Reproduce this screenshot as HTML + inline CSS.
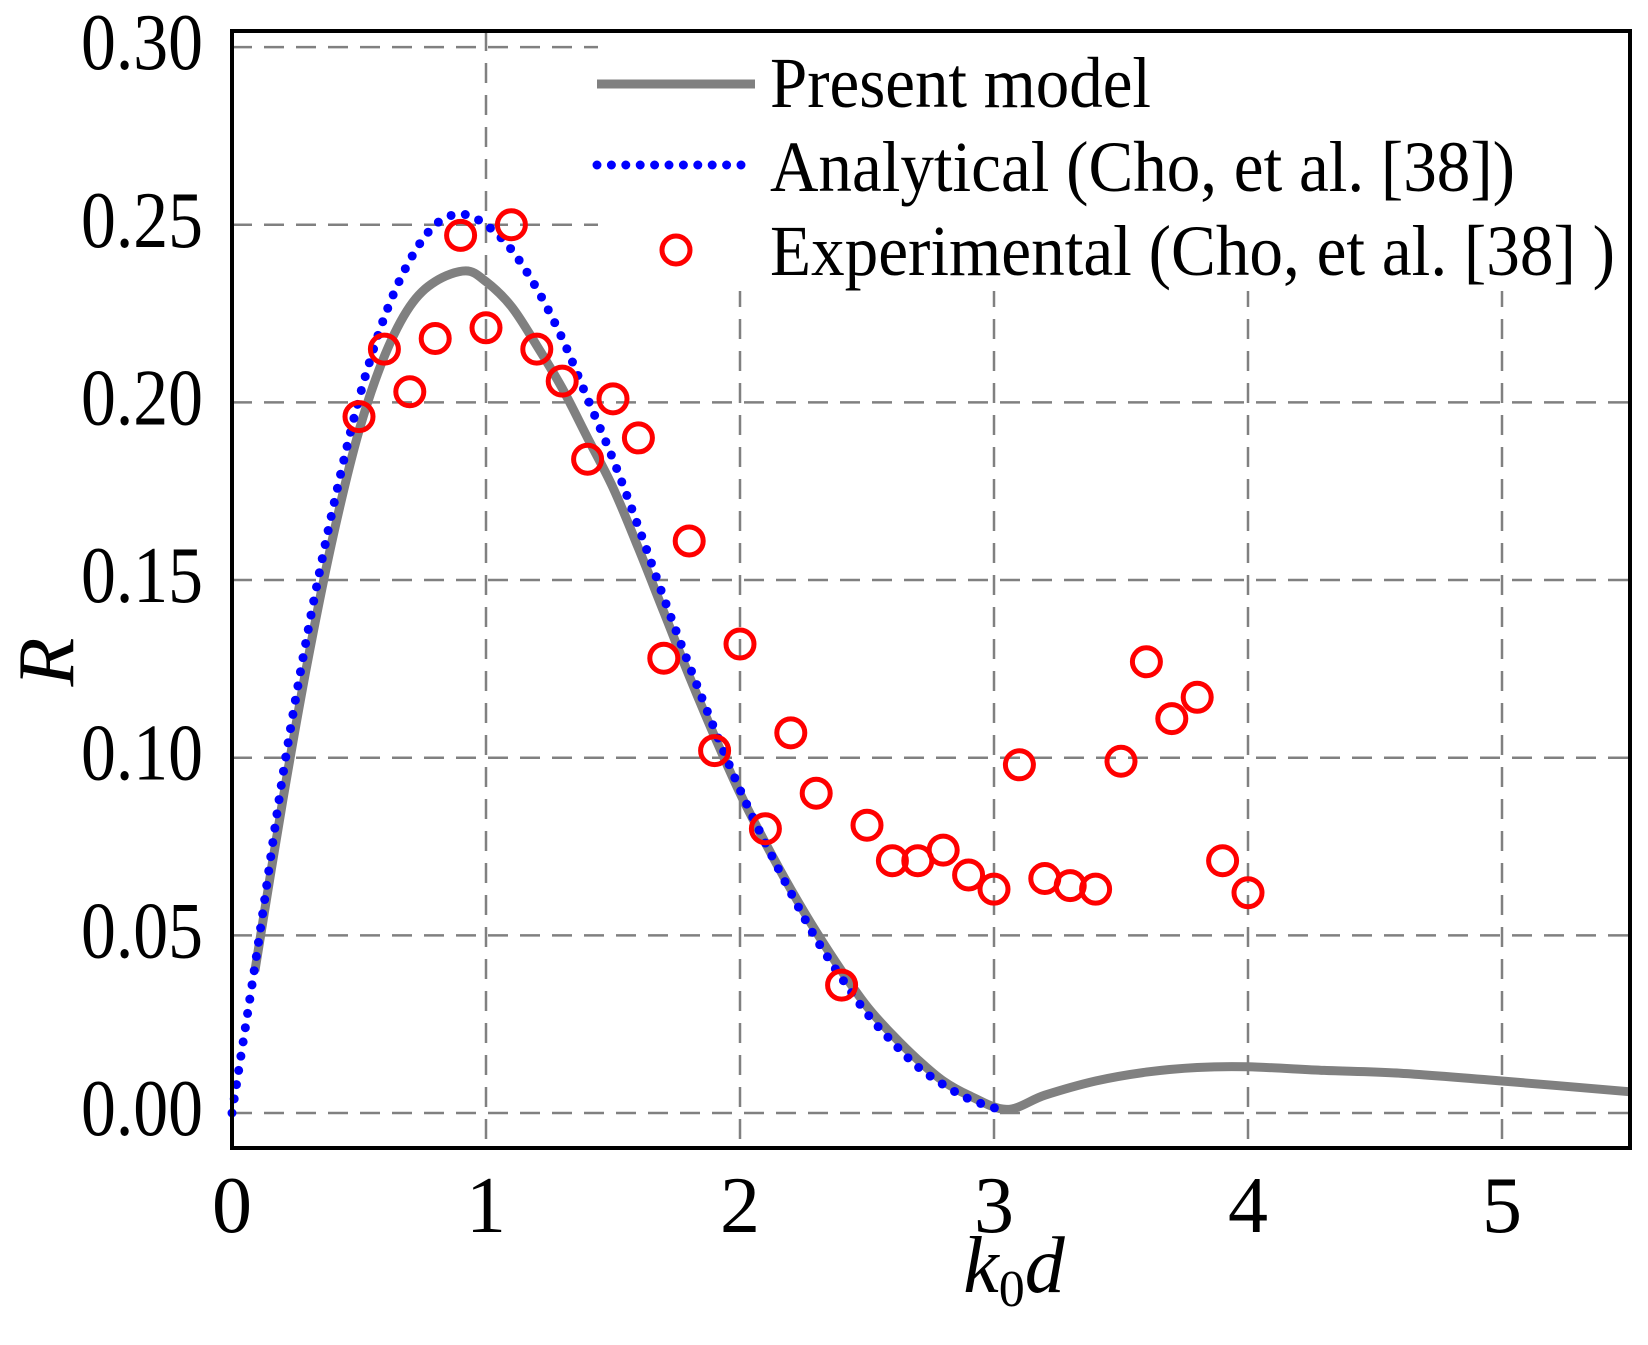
<!DOCTYPE html>
<html><head><meta charset="utf-8"><style>html,body{margin:0;padding:0;background:#fff}svg{display:block}</style></head>
<body>
<svg id="s" width="1648" height="1345" viewBox="0 0 1648 1345" xmlns="http://www.w3.org/2000/svg" font-family="'Liberation Serif',serif">
<rect width="1648" height="1345" fill="#fff"/>
<g id="grid" stroke="#808080" stroke-width="2.5" stroke-dasharray="20,12" fill="none"></g>
<rect x="598" y="33" width="1030" height="258" fill="#fff"/>
<g id="series"></g>
<rect x="232" y="31" width="1398" height="1117" fill="none" stroke="#000" stroke-width="4"/>
<g id="labels" font-size="80" fill="#000"></g>
<text x="47" y="662" font-size="80" font-style="italic" text-anchor="middle" transform="rotate(-90 47 662)" dy="26">R</text>
<text x="1014" y="1292" font-size="80" text-anchor="middle"><tspan font-style="italic">k</tspan><tspan font-size="52" dy="14">0</tspan><tspan font-style="italic" dy="-14">d</tspan></text>
<g font-size="72">
<line x1="597" y1="84" x2="755" y2="84" stroke="#808080" stroke-width="9"/>
<text x="770" y="107" textLength="381" lengthAdjust="spacingAndGlyphs">Present model</text>
<line x1="597" y1="165" x2="755" y2="165" stroke="#0000ff" stroke-width="9" stroke-linecap="round" stroke-dasharray="0,14.4"/>
<text x="770" y="191" textLength="745" lengthAdjust="spacingAndGlyphs">Analytical (Cho, et al. [38])</text>
<circle cx="676" cy="250" r="14" fill="none" stroke="#ff0000" stroke-width="5"/>
<text x="770" y="275" textLength="845" lengthAdjust="spacingAndGlyphs">Experimental (Cho, et al. [38] )</text>
</g>
</svg>
<script>
var NS="http://www.w3.org/2000/svg";
function px(x){return 232+254*x;} function py(r){return 1113-3553*r;}
function el(t,a,p){var e=document.createElementNS(NS,t);for(var k in a)e.setAttribute(k,a[k]);p.appendChild(e);return e;}
var g=document.getElementById('grid'),s=document.getElementById('series'),L=document.getElementById('labels');
for(var i=1;i<=5;i++)el('line',{x1:px(i),x2:px(i),y1:31,y2:1148},g);
for(var j=0;j<=6;j++)el('line',{x1:232,x2:1630,y1:py(j*0.05),y2:py(j*0.05)},g);
for(var j=0;j<=6;j++){var t=el('text',{x:203,y:py(j*0.05)+22,'text-anchor':'end',textLength:122,lengthAdjust:'spacingAndGlyphs'},L);t.textContent=(j*0.05).toFixed(2);}
for(var i=0;i<=5;i++){var t=el('text',{x:px(i),y:1232,'text-anchor':'middle'},L);t.textContent=i;}
var gray=[[0.09,0.04],[0.2,0.088],[0.3,0.128],[0.4,0.163],[0.5,0.192],[0.6,0.213],[0.7,0.227],[0.8,0.234],[0.92,0.237],[1.0,0.234],[1.1,0.227],[1.2,0.216],[1.3,0.204],[1.4,0.19],[1.5,0.176],[1.6,0.159],[1.7,0.141],[1.8,0.123],[1.9,0.106],[2.0,0.09],[2.1,0.076],[2.2,0.063],[2.3,0.051],[2.4,0.04],[2.5,0.03],[2.6,0.022],[2.7,0.015],[2.8,0.009],[2.9,0.005],[3.05,0.001],[3.2,0.005],[3.4,0.009],[3.6,0.0115],[3.8,0.0128],[4.0,0.013],[4.3,0.012],[4.6,0.0112],[5.0,0.009],[5.5,0.006]];
var blue=[[0,0],[0.1,0.046],[0.2,0.095],[0.3,0.136],[0.4,0.171],[0.5,0.201],[0.6,0.224],[0.7,0.24],[0.8,0.25],[0.9,0.253],[1.0,0.25],[1.1,0.243],[1.2,0.232],[1.3,0.218],[1.4,0.201],[1.5,0.184],[1.6,0.165],[1.7,0.145],[1.8,0.126],[1.9,0.108],[2.0,0.091],[2.1,0.076],[2.2,0.062],[2.3,0.049],[2.4,0.038],[2.5,0.028],[2.6,0.02],[2.7,0.013],[2.8,0.008],[2.9,0.004],[3.02,0.001]];
function smooth(d){var P=d.map(function(p){return[px(p[0]),py(p[1])];});var s='M'+P[0][0].toFixed(1)+','+P[0][1].toFixed(1);
for(var i=0;i<P.length-1;i++){var p0=P[Math.max(0,i-1)],p1=P[i],p2=P[i+1],p3=P[Math.min(P.length-1,i+2)];
var c1=[p1[0]+(p2[0]-p0[0])/6,p1[1]+(p2[1]-p0[1])/6],c2=[p2[0]-(p3[0]-p1[0])/6,p2[1]-(p3[1]-p1[1])/6];
s+='C'+c1[0].toFixed(1)+','+c1[1].toFixed(1)+' '+c2[0].toFixed(1)+','+c2[1].toFixed(1)+' '+p2[0].toFixed(1)+','+p2[1].toFixed(1);}return s;}
el('path',{d:smooth(gray),fill:'none',stroke:'#808080','stroke-width':9,'stroke-linejoin':'round'},s);
el('path',{d:smooth(blue),fill:'none',stroke:'#0000ff','stroke-width':9,'stroke-linecap':'round','stroke-dasharray':'0,14.4'},s);
var pts=[[0.5,.196],[0.6,.215],[0.7,.203],[0.8,.218],[0.9,.247],[1.0,.221],[1.1,.25],[1.2,.215],[1.3,.206],[1.4,.184],[1.5,.201],[1.6,.19],[1.7,.128],[1.8,.161],[1.9,.102],[2.0,.132],[2.1,.08],[2.2,.107],[2.3,.09],[2.4,.036],[2.5,.081],[2.6,.071],[2.7,.071],[2.8,.074],[2.9,.067],[3.0,.063],[3.1,.098],[3.2,.066],[3.3,.064],[3.4,.063],[3.5,.099],[3.6,.127],[3.7,.111],[3.8,.117],[3.9,.071],[4.0,.062]];
pts.forEach(function(p){el('circle',{cx:px(p[0]),cy:py(p[1]),r:14,fill:'none',stroke:'#ff0000','stroke-width':5},s);});
</script>
</body></html>
